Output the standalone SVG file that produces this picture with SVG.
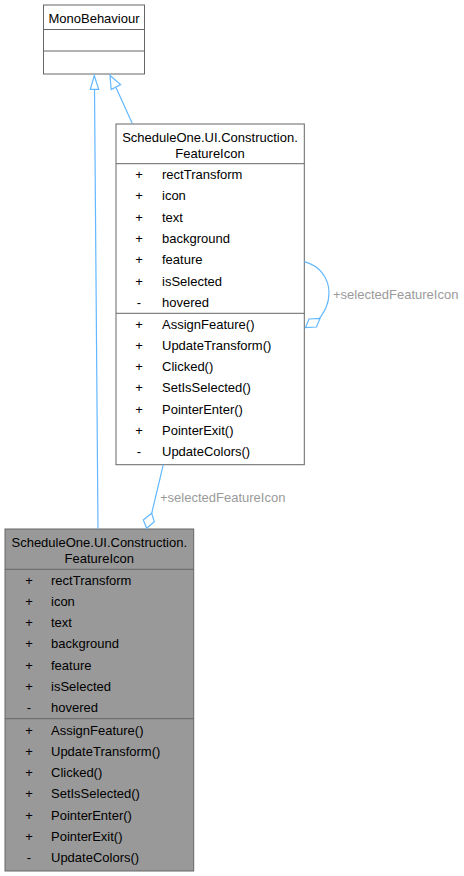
<svg xmlns="http://www.w3.org/2000/svg" width="464" height="876" viewBox="0 0 464 876">
<style>
text{font-family:"Liberation Sans",Arial,sans-serif;font-size:13px;fill:#000}
.c{text-anchor:middle}
.box{stroke:#666666;stroke-width:1}
.div{stroke:#666666;stroke-width:1}
.edge{fill:none;stroke:#63b8ff;stroke-width:1.2}
.head{fill:#fff;stroke:#63b8ff;stroke-width:1.2}
.lbl{fill:#9a9a9a}
</style>
<rect width="464" height="876" fill="#fff"/>
<g id="MonoBehaviour">
<rect class="box" x="43.5" y="5" width="101" height="69" fill="#fff"/>
<line class="div" x1="43.5" y1="29.5" x2="144.5" y2="29.5"/>
<line class="div" x1="43.5" y1="51" x2="144.5" y2="51"/>
<text class="c" x="94" y="22.5">MonoBehaviour</text>
</g>
<g id="FeatureIconBase">
<rect class="box" x="116" y="124" width="188.3" height="340.7" fill="#fff"/>
<line class="div" x1="116" y1="163.7" x2="304.3" y2="163.7"/>
<line class="div" x1="116" y1="313.3" x2="304.3" y2="313.3"/>
<text class="c" x="210" y="141.8">ScheduleOne.UI.Construction.</text>
<text class="c" x="210" y="157.8">FeatureIcon</text>
<g text-anchor="middle">
<text x="139" y="178.8">+</text><text x="139" y="200.3">+</text><text x="139" y="221.8">+</text><text x="139" y="242.8">+</text><text x="139" y="263.8">+</text><text x="139" y="285.8">+</text><text x="139" y="306.8">-</text>
<text x="139" y="328.5">+</text><text x="139" y="349.8">+</text><text x="139" y="370.8">+</text><text x="139" y="392.2">+</text><text x="139" y="413.5">+</text><text x="139" y="434.5">+</text><text x="139" y="456.2">-</text>
</g>
<text x="162" y="178.8">rectTransform</text>
<text x="162" y="200.3">icon</text>
<text x="162" y="221.8">text</text>
<text x="162" y="242.8">background</text>
<text x="162" y="263.8">feature</text>
<text x="162" y="285.8">isSelected</text>
<text x="162" y="306.8">hovered</text>
<text x="162" y="328.5">AssignFeature()</text>
<text x="162" y="349.8">UpdateTransform()</text>
<text x="162" y="370.8">Clicked()</text>
<text x="162" y="392.2">SetIsSelected()</text>
<text x="162" y="413.5">PointerEnter()</text>
<text x="162" y="434.5">PointerExit()</text>
<text x="162" y="456.2">UpdateColors()</text>
</g>
<g id="FeatureIcon">
<rect class="box" x="5" y="529" width="188.7" height="342" fill="#999999"/>
<line class="div" x1="5" y1="569.3" x2="193.7" y2="569.3"/>
<line class="div" x1="5" y1="718.7" x2="193.7" y2="718.7"/>
<text class="c" x="99.3" y="547.2">ScheduleOne.UI.Construction.</text>
<text class="c" x="99.3" y="563">FeatureIcon</text>
<g text-anchor="middle">
<text x="29" y="584.5">+</text><text x="29" y="606">+</text><text x="29" y="626.8">+</text><text x="29" y="648.2">+</text><text x="29" y="669.8">+</text><text x="29" y="690.8">+</text><text x="29" y="711.8">-</text>
<text x="29" y="734.5">+</text><text x="29" y="755.5">+</text><text x="29" y="776.8">+</text><text x="29" y="798.2">+</text><text x="29" y="819.5">+</text><text x="29" y="840.5">+</text><text x="29" y="862.2">-</text>
</g>
<text x="51" y="584.5">rectTransform</text>
<text x="51" y="606">icon</text>
<text x="51" y="626.8">text</text>
<text x="51" y="648.2">background</text>
<text x="51" y="669.8">feature</text>
<text x="51" y="690.8">isSelected</text>
<text x="51" y="711.8">hovered</text>
<text x="51" y="734.5">AssignFeature()</text>
<text x="51" y="755.5">UpdateTransform()</text>
<text x="51" y="776.8">Clicked()</text>
<text x="51" y="798.2">SetIsSelected()</text>
<text x="51" y="819.5">PointerEnter()</text>
<text x="51" y="840.5">PointerExit()</text>
<text x="51" y="862.2">UpdateColors()</text>
</g>
<g id="connectors">
<path class="edge" d="M98,529 L94.5,89.5"/>
<polygon class="head" points="94.3,75.5 90.3,89.3 98.7,89.3"/>
<path class="edge" d="M132.3,123.5 L116,87.5"/>
<polygon class="head" points="110,75.5 111.2,89.5 120.6,84.6"/>
<path class="edge" d="M304.3,261.7 C320,266 329,278 329,293 C329,305 324,312 319.5,318.5"/>
<polygon class="head" points="305.5,327.5 309,319 320,318.5 316.5,327"/>
<text class="lbl" x="333" y="298.5">+selectedFeatureIcon</text>
<path class="edge" d="M163.3,464.7 L151.7,513.3"/>
<polygon class="head" points="151.7,513.3 143.3,520 146.7,528.3 154.3,521.7"/>
<text class="lbl" x="160" y="502">+selectedFeatureIcon</text>
</g>
</svg>
